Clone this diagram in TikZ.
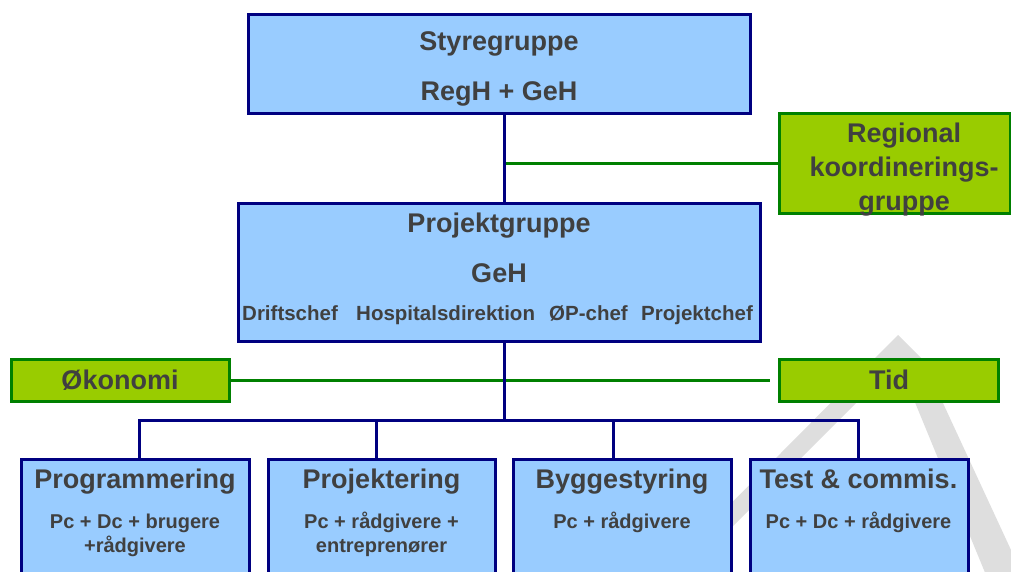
\documentclass[tikz,border=0pt]{standalone}
\usepackage{fontspec}
\setmainfont{Liberation Sans}
\definecolor{boxblue}{HTML}{99CCFF}
\definecolor{navy}{HTML}{000080}
\definecolor{limeg}{HTML}{99CC00}
\definecolor{dgreen}{HTML}{008000}
\definecolor{txt}{HTML}{404040}
\definecolor{wm}{HTML}{DEDEDE}
\tikzset{
  bluebox/.style={draw=navy, fill=boxblue, line width=3pt, inner sep=0pt},
  greenbox/.style={draw=dgreen, fill=limeg, line width=3pt, inner sep=0pt},
  big/.style={font=\fontsize{27}{32}\selectfont\bfseries, text=txt, inner sep=0pt, anchor=base},
  small/.style={font=\fontsize{20}{24}\selectfont\bfseries, text=txt, inner sep=0pt, anchor=base},
  smallw/.style={font=\fontsize{20.5}{24}\selectfont\bfseries, text=txt, inner sep=0pt, anchor=base west},
  tree/.style={draw=navy, line width=3pt},
  gline/.style={draw=dgreen, line width=3pt},
}
\begin{document}
\begin{tikzpicture}[x=1pt,y=-1pt]
\useasboundingbox (0,0) rectangle (1011,572);
\clip (0,0) rectangle (1011,572);
\fill[white] (0,0) rectangle (1011,572);
% watermark
\fill[wm] (660,575) -- (898,335) -- (923,360) -- (1011,550) -- (1011,575) -- (986,575) -- (898,361) -- (684,575) -- cycle;

% boxes
\node[bluebox, minimum width=502pt, minimum height=99pt] (sty) at (499,64.5) {};
\node[greenbox, minimum width=231pt, minimum height=99pt] (reg) at (894.5,163.5) {};
\node[bluebox, minimum width=522pt, minimum height=138pt] (proj) at (499,272) {};
\node[greenbox, minimum width=218pt, minimum height=42pt] (oko) at (120,380) {};
\node[greenbox, minimum width=219pt, minimum height=42pt] (tid) at (888.5,380) {};
\node[bluebox, minimum width=228pt, minimum height=141pt] (prog) at (135,529.5) {};
\node[bluebox, minimum width=227pt, minimum height=141pt] (pjk) at (381.5,529.5) {};
\node[bluebox, minimum width=218pt, minimum height=141pt] (byg) at (622,529.5) {};
\node[bluebox, minimum width=218pt, minimum height=141pt] (tst) at (859,529.5) {};

% connectors
\coordinate (bus) at (504,420);
\coordinate (d1) at (139,420);
\coordinate (d2) at (376,420);
\coordinate (d3) at (613,420);
\coordinate (d4) at (858,420);
\coordinate (tidend) at (770,380);
\coordinate (sx) at (504,0);

\draw[gline] (reg.west) -- (sx |- reg.west);
\draw[gline] (oko.east) -- (tidend);
\draw[tree] (sx |- sty.south) -- (sx |- proj.north);
\draw[tree] (sx |- proj.south) -- (bus);
\draw[tree] (d1 |- prog.north) -- (d1) -- (d4) -- (d4 |- tst.north);
\draw[tree] (d2) -- (d2 |- pjk.north);
\draw[tree] (d3) -- (d3 |- byg.north);

% texts
\node[big] (t1) at (499,51) {Styregruppe};
\node[big] (t2) at (499,101) {RegH + GeH};
\node[big] (r1) at (904,143) {Regional};
\node[big] (r2) at (904,177) {koordinerings-};
\node[big] (r3) at (904,210) {gruppe};
\node[big] (p1) at (499,232) {Projektgruppe};
\node[big] (p2) at (499,282) {GeH};
\node[smallw] (w1) at (242,320) {Driftschef};
\node[smallw] (w2) at (356,320) {Hospitalsdirektion};
\node[smallw] (w3) at (549,320) {ØP-chef};
\node[smallw] (w4) at (641,320) {Projektchef};
\node[big] (o1) at (120,389) {Økonomi};
\node[big] (ti1) at (889,389) {Tid};
\node[big] (b1) at (135,488) {Programmering};
\node[small] (b1a) at (135,528) {Pc + Dc + brugere};
\node[small] (b1b) at (135,552) {+rådgivere};
\node[big] (b2) at (381.5,488) {Projektering};
\node[small] (b2a) at (381.5,528) {Pc + rådgivere +};
\node[small] (b2b) at (381.5,552) {entreprenører};
\node[big] (b3) at (622,488) {Byggestyring};
\node[small] (b3a) at (622,528) {Pc + rådgivere};
\node[big] (b4) at (858.5,488) {Test \& commis.};
\node[small] (b4a) at (858.5,528) {Pc + Dc + rådgivere};
\end{tikzpicture}
\end{document}
